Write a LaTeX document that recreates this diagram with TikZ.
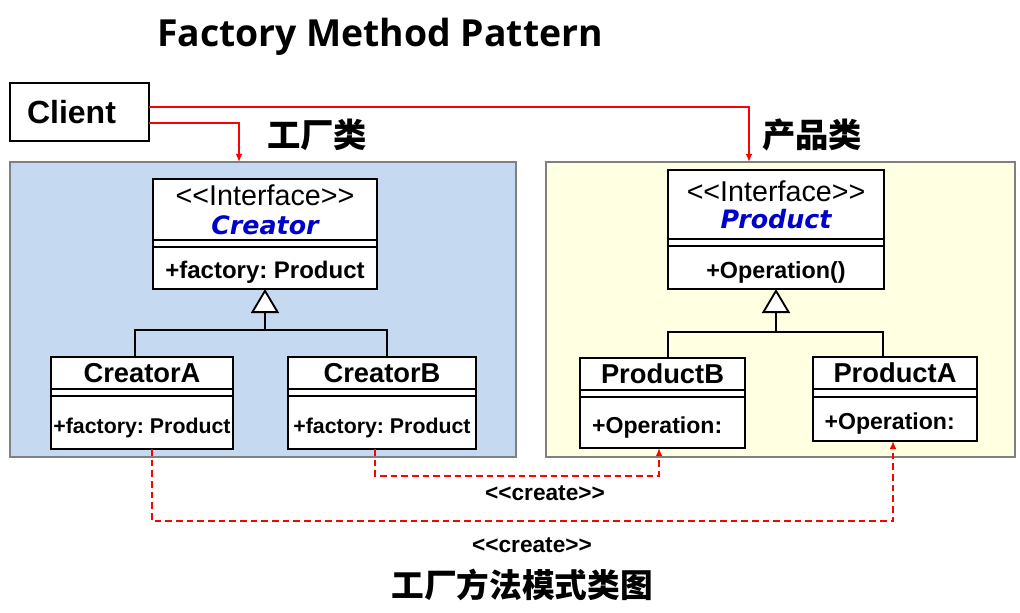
\documentclass[tikz,border=0pt]{standalone}
\usepackage{fontspec}
\setmainfont{Liberation Sans}
\newfontfamily\titlefont{Open Sans}
\newfontfamily\slantfont{DejaVu Sans}
\newfontfamily\cjk{Noto Sans CJK SC}
\usetikzlibrary{arrows.meta,positioning}
\definecolor{factorybg}{RGB}{197,217,240}
\definecolor{productbg}{RGB}{255,255,225}
\definecolor{ifaceblue}{RGB}{0,0,204}
\newcommand{\stereo}[1]{<{}<#1>{}>}
\frenchspacing
\begin{document}
\begin{tikzpicture}[x=0.75pt,y=-0.75pt,
  cls/.style={draw, line width=1.4pt, fill=white, inner sep=0pt, outer sep=0pt, minimum width=#1},
  gapbox/.style={cls=#1, minimum height=5.25pt},
  opbox/.style={cls=#1, text height=16pt, text depth=0pt},
  panel/.style={draw=gray, line width=1.1pt},
  inherit/.style={line width=1.4pt, -{Triangle[open, fill=white, length=18pt, width=21pt]}},
  link/.style={line width=1.4pt},
  calls/.style={red, line width=1.1pt, -{Latex[length=6pt, width=5pt]}},
  creates/.style={red, line width=1.7pt, dash pattern=on 5pt off 3pt, -{Latex[length=6pt, width=5pt]}}]
  \useasboundingbox (0,0) rectangle (1020,613);
  \node[font=\titlefont\bfseries\fontsize{28}{32}\selectfont] (title) at (380,37) {Factory Method Pattern};
  \fill[factorybg] (10,162) rectangle (516,457);
  \draw[panel] (10,162) rectangle (516,457);
  \fill[productbg] (546,162) rectangle (1015,457);
  \draw[panel] (546,162) rectangle (1015,457);
  \coordinate (fin) at (239,162);
  \coordinate (pin) at (749,162);
  \node[cls=104.25pt, minimum height=43.5pt, line width=1.5pt, font=\bfseries\fontsize{24}{28}\selectfont] (client) at (79.5,112) {Client\hspace*{12pt}};
  \node[font=\cjk\bfseries\fontsize{25}{30}\selectfont] (flabel) at (317,135) {工厂类};
  \node[font=\cjk\bfseries\fontsize{25}{30}\selectfont] (plabel) at (812,135) {产品类};
  % creator side
  \node[cls=168pt, minimum height=45.75pt, align=center, font=\fontsize{21.5}{21.75}\selectfont] (creator-t) at (265,209.5)
    {\stereo{Interface}\\{\slantfont\bfseries\itshape\fontsize{19}{21.75}\selectfont\color{ifaceblue}Creator}};
  \node[gapbox=168pt, below=0pt of creator-t] (creator-g) {};
  \node[opbox=168pt, minimum height=31.5pt, font=\bfseries\fontsize{18}{20}\selectfont, below=0pt of creator-g] (creator-m) {+factory: Product};
  \node[cls=136.5pt, minimum height=24pt, font=\bfseries\fontsize{20.5}{22}\selectfont] (cA-t) at (142,373) {CreatorA};
  \node[gapbox=136.5pt, below=0pt of cA-t] (cA-g) {};
  \node[opbox=136.5pt, minimum height=39.75pt, font=\bfseries\fontsize{16}{18}\selectfont, below=0pt of cA-g] (cA-m) {+factory: Product};
  \node[cls=141pt, minimum height=24pt, font=\bfseries\fontsize{20.5}{22}\selectfont] (cB-t) at (382,373) {CreatorB};
  \node[gapbox=141pt, below=0pt of cB-t] (cB-g) {};
  \node[opbox=141pt, minimum height=39.75pt, font=\bfseries\fontsize{16}{18}\selectfont, below=0pt of cB-g] (cB-m) {+factory: Product};
  \coordinate (chub) at (265,330);
  \draw[inherit] (chub) -- (creator-m.south);
  \draw[link] ([xshift=-5.25pt]cA-t.north) |- (chub) -| ([xshift=3.75pt]cB-t.north);
  % product side
  \node[cls=162pt, minimum height=51.75pt, align=center, font=\fontsize{21.5}{20.25}\selectfont] (product-t) at (776,204.5)
    {\stereo{Interface}\\{\slantfont\bfseries\itshape\fontsize{19}{20.25}\selectfont\color{ifaceblue}Product}};
  \node[gapbox=162pt, below=0pt of product-t] (product-g) {};
  \node[opbox=162pt, minimum height=32.25pt, font=\bfseries\fontsize{17.5}{20}\selectfont, below=0pt of product-g] (product-m) {+Operation()};
  \node[cls=123.75pt, minimum height=24pt, font=\bfseries\fontsize{20.5}{22}\selectfont] (pB-t) at (662.5,374) {ProductB};
  \node[gapbox=123.75pt, below=0pt of pB-t] (pB-g) {};
  \node[opbox=123.75pt, minimum height=38.25pt, font=\bfseries\fontsize{17.3}{19}\selectfont, below=0pt of pB-g] (pB-m) {+Operation:\hspace*{8pt}};
  \node[cls=123pt, minimum height=24pt, font=\bfseries\fontsize{20.5}{22}\selectfont] (pA-t) at (895,373) {ProductA};
  \node[gapbox=123pt, below=0pt of pA-t, minimum height=6pt] (pA-g) {};
  \node[opbox=123pt, minimum height=33pt, font=\bfseries\fontsize{17.3}{19}\selectfont, below=0pt of pA-g] (pA-m) {+Operation:\hspace*{8pt}};
  \coordinate (phub) at (776,332);
  \draw[inherit] (phub) -- (product-m.south);
  \draw[link] ([xshift=4.1pt]pB-t.north) |- (phub) -| ([xshift=-9pt]pA-t.north);
  % client calls
  \draw[calls] ([yshift=3.75pt]client.east) -| (pin);
  \draw[calls] ([yshift=-8.25pt]client.east) -| (fin);
  % create dependencies
  \draw[creates] ([xshift=-5.25pt]cB-m.south) -- ++(0,27) -| ([xshift=-2.6pt]pB-m.south);
  \draw[creates] ([xshift=7.5pt]cA-m.south) -- ++(0,72) -| ([xshift=-1.5pt]pA-m.south);
  \node[font=\bfseries\fontsize{17}{19}\selectfont] (create1) at (545,493) {\stereo{create}};
  \node[font=\bfseries\fontsize{17}{19}\selectfont] (create2) at (532,545) {\stereo{create}};
  \node[font=\cjk\bfseries\fontsize{24.5}{30}\selectfont] (caption) at (522,585) {工厂方法模式类图};
\end{tikzpicture}
\end{document}
